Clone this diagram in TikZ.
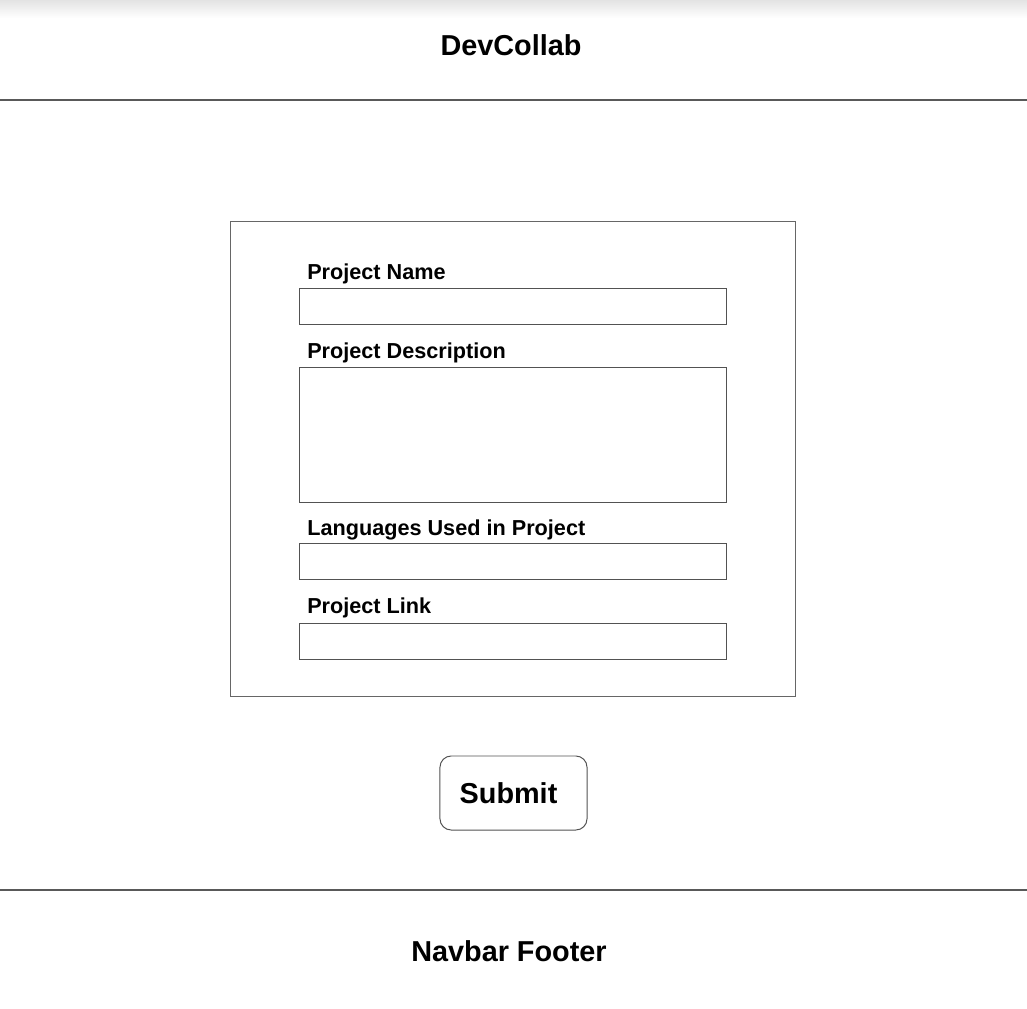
\documentclass[tikz,border=0pt]{standalone}
\usepackage{fontspec}
\setmainfont{Liberation Sans}

\begin{document}
\begin{tikzpicture}[x=0.025cm, y=-0.025cm,
  box/.style={rectangle, draw=black!68, line width=0.7pt, inner sep=0pt},
  field/.style={box, minimum width=10.65cm, minimum height=0.9cm},
  caption/.style={anchor=base west, inner sep=0pt, font=\fontsize{15.4}{18}\selectfont\bfseries},
  title/.style={anchor=base, inner sep=0pt, font=\fontsize{20.5}{24}\selectfont\bfseries}]
\useasboundingbox (0,0) rectangle (1027,1008);
\shade[top color=black!11, bottom color=white] (0,0) rectangle (1027,18);

% header and footer bars
\node[title] (1) at (511,55) {DevCollab};
\draw[black!65, line width=0.9pt] (0,100) -- (1027,100);
\draw[black!65, line width=0.9pt] (0,890) -- (1027,890);
\node[title] (2) at (509,961) {Navbar Footer};

% form
\node[box, draw=black!60, minimum width=14.1cm, minimum height=11.86cm] (3) at (513,458.75) {};
\node[caption] (4) at (307,279) {Project Name};
\node[field] (5) at (513,306) {};
\node[caption] (6) at (307,358) {Project Description};
\node[field, minimum height=3.35cm] (7) at (513,435) {};
\node[caption] (8) at (307,535) {Languages Used in Project};
\node[field] (9) at (513,561.5) {};
\node[caption] (10) at (307,613) {Project Link};
\node[field] (11) at (513,641) {};

% button
\node[box, rounded corners=0.28cm, minimum width=3.675cm, minimum height=1.85cm,
  font=\fontsize{20.5}{24}\selectfont\bfseries] (12) at (513.5,793) {Submit\kern0.25cm};
\end{tikzpicture}
\end{document}
